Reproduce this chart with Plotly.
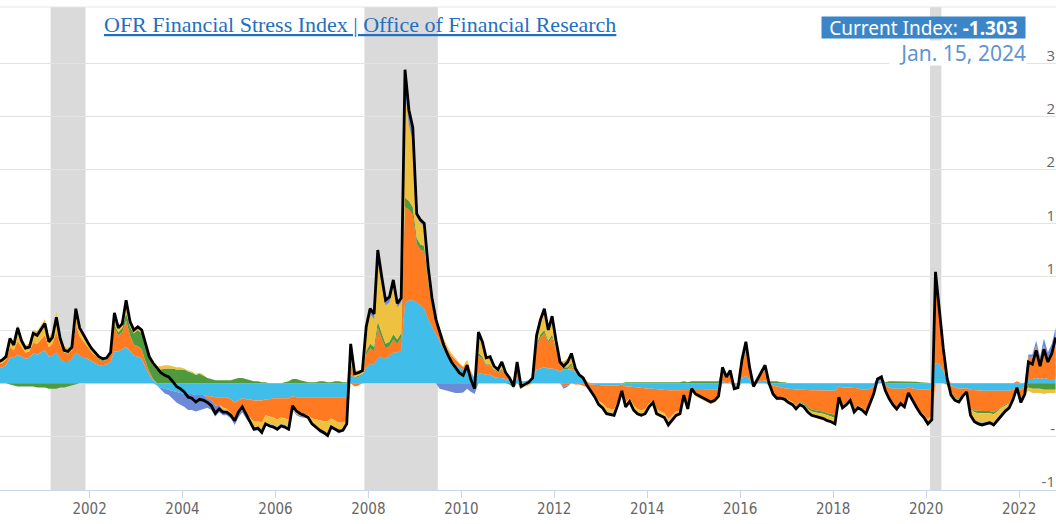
import numpy as np
import pandas as pd
import plotly.graph_objects as go

# Monthly observations (mid-month), Jan 2000 .. Oct 2022
dates = pd.date_range("2000-01-01", periods=274, freq="MS") + pd.Timedelta(days=14)

# cyan component
credit = [
    1.4,1.5,1.7,2.4,2.4,2.7,2.5,2.3,2.4,2.8,2.7,2.9,
    3.1,2.5,2.6,2.9,2.3,2.0,2.0,2.3,2.9,2.6,2.4,2.3,
    2.1,1.9,1.7,1.7,1.8,2.0,3.0,3.0,3.2,3.4,3.0,2.6,
    2.5,2.3,1.5,0.8,0.3,-0.2,-0.4,-0.5,-0.6,-0.7,-0.8,-0.9,
    -1.0,-1.0,-1.0,-1.1,-1.1,-1.1,-1.2,-1.2,-1.3,-1.3,-1.3,-1.3,
    -1.5,-1.8,-1.6,-1.4,-1.5,-1.5,-1.6,-1.6,-1.6,-1.5,-1.5,-1.4,
    -1.4,-1.4,-1.4,-1.4,-1.2,-1.3,-1.3,-1.3,-1.3,-1.3,-1.3,-1.3,
    -1.35,-1.35,-1.3,-1.3,-1.3,-1.3,-1.3,0.8,0.5,0.6,0.8,1.5,
    1.8,1.8,2.4,2.4,2.3,2.6,2.9,2.9,3.1,7.5,7.8,7.8,
    7.6,7.3,7.0,6.0,5.3,4.5,3.9,3.2,2.6,2.1,1.8,1.5,
    1.3,1.4,1.0,0.5,0.9,0.9,0.8,0.8,0.6,0.5,0.5,0.4,
    0.3,0.2,0.5,0.2,0.2,0.3,0.4,1.3,1.4,1.5,1.4,1.4,
    1.3,1.1,1.3,1.3,1.3,1.0,0.7,0.5,0.1,-0.1,-0.1,-0.15,
    -0.2,-0.2,-0.2,-0.25,-0.2,-0.1,-0.3,-0.3,-0.35,-0.4,-0.45,-0.5,
    -0.5,-0.5,-0.55,-0.6,-0.6,-0.65,-0.65,-0.65,-0.65,-0.6,-0.65,-0.6,
    -0.65,-0.65,-0.65,-0.65,-0.65,-0.6,-0.6,0.2,0.0,0.1,-0.3,-0.2,
    0.5,0.7,0.4,0.0,0.1,0.2,0.3,0.0,-0.2,-0.3,-0.4,-0.45,
    -0.5,-0.55,-0.6,-0.6,-0.6,-0.65,-0.65,-0.65,-0.65,-0.65,-0.65,-0.65,
    -0.7,-0.3,-0.4,-0.4,-0.4,-0.45,-0.45,-0.6,-0.6,-0.5,-0.3,0.2,
    0.2,-0.2,-0.4,-0.5,-0.5,-0.5,-0.5,-0.4,-0.5,-0.55,-0.55,-0.55,
    -0.6,-0.5,1.9,1.8,1.2,0.3,-0.2,-0.4,-0.5,-0.5,-0.45,-0.6,
    -0.65,-0.7,-0.7,-0.7,-0.7,-0.7,-0.7,-0.7,-0.7,-0.7,-0.6,-0.4,
    -0.6,-0.3,0.4,0.4,0.5,0.4,0.5,0.4,0.4,0.4,
]
# orange component
volatility = [
    0.4,0.4,0.5,1.0,0.7,1.3,0.9,0.6,0.6,1.0,1.0,1.2,
    1.4,0.9,1.1,1.9,1.3,0.9,0.8,0.8,2.6,1.8,1.5,1.1,
    0.8,0.6,0.5,0.4,0.4,0.6,2.2,1.5,1.6,2.5,1.5,1.0,
    1.0,0.9,0.6,0.3,0.1,0,0,0,0,0,0,0,
    0,0,0,0,0,0,-0.2,-0.4,-0.8,-0.7,-1.0,-1.1,
    -1.3,-1.4,-1.1,-1.0,-1.4,-1.7,-2.0,-1.9,-2.1,-1.5,-1.6,-1.8,
    -2.0,-1.8,-1.9,-2.0,-1.0,-1.3,-1.5,-1.6,-1.7,-2.0,-2.1,-2.2,
    -2.2,-2.2,-2.0,-2.2,-2.4,-2.4,-2.2,1.0,-0.3,-0.2,0.0,1.2,
    1.5,1.2,2.8,1.8,1.0,0.9,1.2,0.8,1.2,9.0,8.5,8.0,
    5.5,5.2,5.4,3.3,2.0,1.2,1.1,0.8,0.6,0.5,0.4,0.3,
    0.2,0.5,0.1,0.0,1.7,1.4,0.9,0.9,0.6,0.5,0.8,0.4,
    0.2,-0.2,0.8,-0.3,-0.2,-0.1,0.1,2.2,2.9,3.2,2.4,2.9,
    1.8,0.7,-0.3,-0.2,0.4,-0.1,-0.1,-0.2,-0.4,-0.5,-1.0,-1.5,
    -1.7,-2.1,-2.2,-2.2,-1.5,-0.5,-1.5,-1.1,-1.7,-2.0,-2.1,-1.9,
    -1.4,-1.1,-1.9,-2.0,-2.2,-2.7,-2.4,-2.0,-1.9,-0.6,-1.5,-0.1,
    -0.5,-0.6,-0.8,-1.0,-1.1,-1.0,-0.7,1.0,0.5,0.8,-0.2,-0.2,
    1.3,2.3,0.9,-0.3,0.2,0.6,1.0,-0.1,-0.8,-1.0,-0.9,-0.95,
    -1.1,-1.2,-1.45,-1.1,-1.3,-1.6,-1.8,-1.9,-1.95,-2.0,-2.15,-2.2,
    -2.3,-0.9,-1.6,-1.4,-1.1,-1.9,-1.6,-1.7,-2.0,-1.3,-0.7,0.0,
    0.1,-0.5,-1.0,-1.5,-1.8,-1.4,-1.6,-0.6,-1.2,-1.6,-2.1,-2.4,
    -2.8,-2.5,7.3,4.5,1.9,0.3,-0.6,-0.9,-0.9,-0.5,-0.3,-1.7,
    -1.9,-1.9,-1.9,-1.9,-1.9,-2.0,-1.8,-1.5,-1.3,-1.1,-0.6,0.2,
    -0.8,-0.4,2.1,2.0,3.0,1.8,3.0,2.0,2.6,3.8,
]
# green component
safe_assets = [
    0,0,0,-0.1,-0.2,-0.3,-0.3,-0.3,-0.3,-0.3,-0.4,-0.4,
    -0.4,-0.5,-0.5,-0.5,-0.4,-0.4,-0.3,-0.2,-0.1,0,0,0,
    0,0.1,0.1,0.1,0.1,0.1,0.3,0.3,0.4,0.7,0.8,1.1,
    1.5,1.5,1.4,1.2,1.3,1.3,1.3,1.4,1.4,1.4,1.3,1.3,
    1.3,1.1,1.0,0.8,0.9,0.7,0.5,0.4,0.3,0.3,0.3,0.3,
    0.3,0.4,0.5,0.5,0.4,0.3,0.2,0.2,0.1,0.1,0,0,
    0,0,0.1,0.2,0.4,0.4,0.3,0.2,0.1,0.1,0.1,0.2,
    0.2,0.1,0.1,0.2,0.2,0.1,0.1,0.2,0.1,0.1,0.1,0.3,
    0.4,0.4,0.6,0.5,0.4,0.4,0.5,0.4,0.4,0.9,0.8,0.7,
    0.5,0.5,0.5,0.3,0.2,0.1,0,0,0,0,0,0,
    0,0,0,-0.4,0.3,0.2,0.1,0.1,0.1,0.1,0.1,0.1,
    -0.1,-0.2,0.1,-0.1,0,0,0,0.2,0.3,0.3,0.2,0.3,
    0.2,0.1,0.2,0.2,0.2,0.1,0,0,0,0,0,0,
    0,0,0,0,0,-0.1,0.1,0.1,0.1,0.1,0.1,0.1,
    0.1,0.1,0.1,0.1,0.1,0.1,0.1,0.1,0.1,0.2,0.1,0.2,
    0.2,0.2,0.2,0.2,0.2,0.2,0.2,0.1,0,0.1,0,0,
    0.1,0.2,0,0,0,0,0.1,0.2,0.2,0.2,0.1,0.1,
    0,0,-0.1,-0.1,-0.1,-0.15,-0.2,-0.2,-0.2,-0.2,-0.2,-0.25,
    -0.25,0,-0.1,-0.05,0,-0.15,-0.1,0,0,0,0,0,
    0,0.1,0.2,0.2,0.2,0.2,0.2,0.2,0.2,0.15,0.1,0.1,
    0.05,0,0.2,0.1,0,-0.1,-0.1,-0.1,-0.1,0,0,-0.1,
    -0.15,-0.2,-0.2,-0.2,-0.2,-0.2,-0.15,-0.1,-0.1,-0.1,-0.1,0,
    -0.1,-0.1,-0.4,-0.5,-0.5,-0.5,-0.6,-0.6,-0.6,-0.6,
]
# yellow component
funding = [
    0.2,0.3,0.3,0.9,0.7,1.5,0.9,0.7,0.7,1.2,1.2,1.3,
    1.5,1.0,1.1,1.9,1.0,0.6,0.5,0.5,1.6,0.8,0.6,0.5,
    0.4,0.3,0.2,0.1,0.1,0.2,1.1,0.4,0.4,1.2,0.5,0.3,
    0.3,0.3,0.25,0.2,0.2,0.3,0.3,0.3,0.3,0.2,0.2,0.2,
    0.1,0.1,0.1,0.1,0.1,0.1,0,0,0,0,-0.2,-0.2,
    -0.2,-0.3,-0.2,-0.1,-0.2,-0.4,-0.6,-0.6,-0.7,-0.7,-0.7,-0.7,
    -0.7,-0.6,-0.6,-0.8,-0.2,-0.3,-0.25,-0.2,-0.2,-0.5,-0.7,-0.9,
    -1.0,-1.2,-0.7,-0.8,-0.8,-0.7,-0.3,1.5,0.6,0.5,0.3,2.0,
    2.8,2.6,5.5,4.5,3.6,3.7,4.4,3.0,2.9,10.0,7.0,6.3,
    2.0,2.0,1.8,1.2,0.5,0.2,0.2,0.2,0.2,0.2,0.2,0.1,
    0.1,0.3,0.1,0,1.5,1.2,0.6,0.7,0.3,0.2,0.6,0.1,
    0.1,-0.1,0.6,-0.1,-0.1,-0.1,0,0.8,1.2,1.6,0.9,1.4,
    0.7,0.1,0.6,0.8,0.9,0.4,0.2,0.2,0.1,-0.1,-0.2,-0.25,
    -0.3,-0.4,-0.35,-0.4,-0.2,0,-0.4,-0.3,-0.45,-0.45,-0.45,-0.45,
    -0.3,-0.2,-0.4,-0.4,-0.4,-0.5,-0.4,-0.35,-0.3,-0.1,-0.25,0,
    -0.05,-0.15,-0.15,-0.15,-0.2,-0.2,-0.1,0.2,0.1,0.2,0,0,
    0.3,0.6,0.2,0,0.1,0.2,0.3,-0.1,-0.2,-0.3,-0.2,-0.2,
    -0.2,-0.25,-0.25,-0.2,-0.2,-0.3,-0.35,-0.35,-0.4,-0.45,-0.5,-0.5,
    -0.55,-0.1,-0.2,-0.15,-0.1,-0.2,-0.15,-0.2,-0.25,-0.1,0,0,
    0,-0.1,-0.2,-0.2,-0.3,-0.2,-0.3,-0.1,-0.1,-0.2,-0.25,-0.35,
    -0.45,-0.4,0.8,0.4,0.2,-0.1,-0.2,-0.2,-0.25,-0.2,-0.05,-0.5,
    -0.7,-0.8,-0.9,-0.8,-0.7,-0.8,-0.65,-0.5,-0.4,-0.35,-0.2,-0.1,
    -0.3,-0.2,-0.3,-0.4,-0.4,-0.4,-0.4,-0.3,-0.3,-0.3,
]
# blue component
equity_valuation = [
    0,0,0,0,0,0,0,0,0,0,0,0,
    0,0,0,0,0,0,0,0,0,0,0,0,
    0,0,0,0,0,0,0,0,0,0,0,0,
    0,0,0,0,0,0,-0.2,-0.45,-0.5,-0.7,-1.0,-1.1,
    -1.2,-1.5,-1.5,-1.55,-1.4,-1.3,-0.9,-0.9,-1.0,-0.7,-0.5,-0.4,
    -0.3,-0.4,-0.3,-0.2,-0.2,-0.2,-0.3,-0.3,-0.3,-0.2,-0.2,-0.2,
    -0.2,-0.2,-0.3,-0.3,-0.1,-0.1,-0.1,-0.1,-0.1,-0.1,-0.1,-0.2,
    -0.25,-0.25,-0.2,-0.2,-0.2,-0.1,-0.1,0.2,0,0,0,0.3,
    0.5,0.5,1.2,0.8,0.5,0.5,0.7,0.4,0.4,2.0,1.5,1.2,
    0.3,0.3,0.3,0.1,0,0,-0.5,-0.6,-0.7,-0.8,-0.9,-0.9,
    -0.85,-0.5,-0.8,-0.6,0.4,0.2,0,0,0,0,0,0,
    0,0,0,0,0,0,0,0,0.2,0.4,0.1,0.3,
    0,0,-0.2,-0.1,0,0,0,0,0,0,0,-0.1,
    -0.1,-0.15,-0.15,-0.15,-0.1,0,-0.1,-0.1,-0.1,-0.1,-0.1,-0.1,
    -0.1,-0.1,-0.1,-0.1,-0.1,-0.15,-0.15,-0.1,-0.1,0,-0.1,0,
    0,0,0,0,0,0,0,0,0,0,0,0,
    0,0.1,0,0,0,0,0,0,0,0,0,0,
    0,0,0,0,0,0,0,0,0,0,0,0,
    0,0,0,0,0,0,0,0,0,0,0,0.2,
    0.3,0,0,0,0,0,0,0,0,0,0,0,
    0,0,0.25,0,0,0,0,0,0,0,0,-0.1,
    -0.2,-0.2,-0.2,-0.2,-0.2,-0.2,-0.2,-0.2,-0.1,-0.05,0,-0.1,
    0,0,0.2,0.3,0.5,0.3,0.7,0.5,0.7,1.0,
]

component_names = ["Credit", "Volatility", "Safe assets", "Funding", "Equity valuation"]
component_values = [credit, volatility, safe_assets, funding, equity_valuation]
component_colors = ["#40bde8", "#ff7a21", "#4f9a3d", "#efc141", "#6c8ad8"]

recessions = [("2001-03-01", "2001-11-30"), ("2007-12-01", "2009-06-30"), ("2020-02-01", "2020-04-30")]
tick_years = list(range(2002, 2023, 2))
y_ticks = [-10, -5, 0, 5, 10, 15, 20, 25, 30]
# the right-hand value labels as they appear in the (edge-cropped) source chart
y_tick_text = ["-1", "-", "", "", "1", "1", "2", "2", "3"]

comp = np.array(component_values, dtype=float)
total = comp.sum(axis=0)

fig = go.Figure()
for name, vals, col in zip(component_names, comp, component_colors):
    fig.add_trace(go.Scatter(x=dates, y=np.clip(vals, 0, None), stackgroup="pos", mode="lines",
                             line=dict(width=0, color=col), fillcolor=col, name=name,
                             showlegend=False, hoverinfo="skip"))
for name, vals, col in zip(component_names, comp, component_colors):
    fig.add_trace(go.Scatter(x=dates, y=np.clip(vals, None, 0), stackgroup="neg", mode="lines",
                             line=dict(width=0, color=col), fillcolor=col, name=name,
                             showlegend=False, hoverinfo="skip"))
fig.add_trace(go.Scatter(x=dates, y=total, mode="lines", line=dict(color="#000000", width=2.8),
                         name="OFR FSI", showlegend=False))

shapes = []
for a, b in recessions:
    shapes.append(dict(type="rect", xref="x", yref="paper", x0=a, x1=b, y0=0, y1=1,
                       fillcolor="#dadada", line=dict(width=0), layer="below"))
shapes.append(dict(type="line", xref="paper", yref="paper", x0=0, x1=1, y0=1, y1=1,
                   line=dict(color="#e6e6e6", width=1)))

fig.update_layout(
    width=1056, height=524,
    margin=dict(l=0, r=0, t=7, b=34, autoexpand=False),
    paper_bgcolor="white", plot_bgcolor="white",
    showlegend=False,
    shapes=shapes,
    xaxis=dict(type="date", range=["2000-01-28", "2022-10-18"], automargin=False,
               tickvals=[f"{y}-01-01" for y in tick_years], ticktext=[str(y) for y in tick_years],
               showgrid=False, zeroline=False, showline=True, linecolor="#ccd6eb", linewidth=1,
               ticks="outside", ticklen=7, tickcolor="#ccd6eb", ticklabelstandoff=-2,
               tickfont=dict(family="Liberation Sans Narrow, DejaVu Sans Condensed, Liberation Sans, sans-serif", size=15, color="#666666")),
    yaxis=dict(range=[-10, 35.28], tickvals=y_ticks, ticktext=y_tick_text, automargin=False,
               side="right", ticklabelposition="inside", ticklabelstandoff=-2, ticklabelshift=-8,
               ticklabeloverflow="allow",
               showgrid=True, gridcolor="#e3e3e3", gridwidth=1, zeroline=False, showline=False,
               tickfont=dict(family="Open Sans, sans-serif", size=15, color="#666666")),
    annotations=[
        dict(text="<u>OFR Financial Stress Index | Office of Financial Research</u>",
             xref="paper", yref="paper", x=102/1056, y=(490-24)/483, xanchor="left", yanchor="middle",
             showarrow=False, font=dict(family="Liberation Serif, Times New Roman, serif", size=22, color="#1f6fc2")),
        dict(text="Current Index: <b>-1.303</b>",
             xref="paper", yref="paper", x=1026/1056, y=(490-27.5)/483, xanchor="right", yanchor="middle",
             showarrow=False, bgcolor="#3a86c8", borderpad=0, width=203, height=21, align="center",
             font=dict(family="Noto Sans, Lato, sans-serif", size=19, color="white")),
        dict(text="Jan. 15, 2024",
             xref="paper", yref="paper", x=1027/1056, y=(490-53)/483, xanchor="right", yanchor="middle",
             showarrow=False, bgcolor="white", borderpad=0, width=136, height=24, align="right",
             font=dict(family="Noto Sans, Lato, sans-serif", size=21, color="#5f95cf")),
    ],
)

fig.write_html("out.html", config={"displayModeBar": False})

# remove the default page margin so the figure fills the window exactly
with open("out.html", "r", encoding="utf-8") as f:
    html = f.read()
html = html.replace("<head>", "<head><style>html,body{margin:0;padding:0;overflow:hidden;}</style>", 1)
with open("out.html", "w", encoding="utf-8") as f:
    f.write(html)
